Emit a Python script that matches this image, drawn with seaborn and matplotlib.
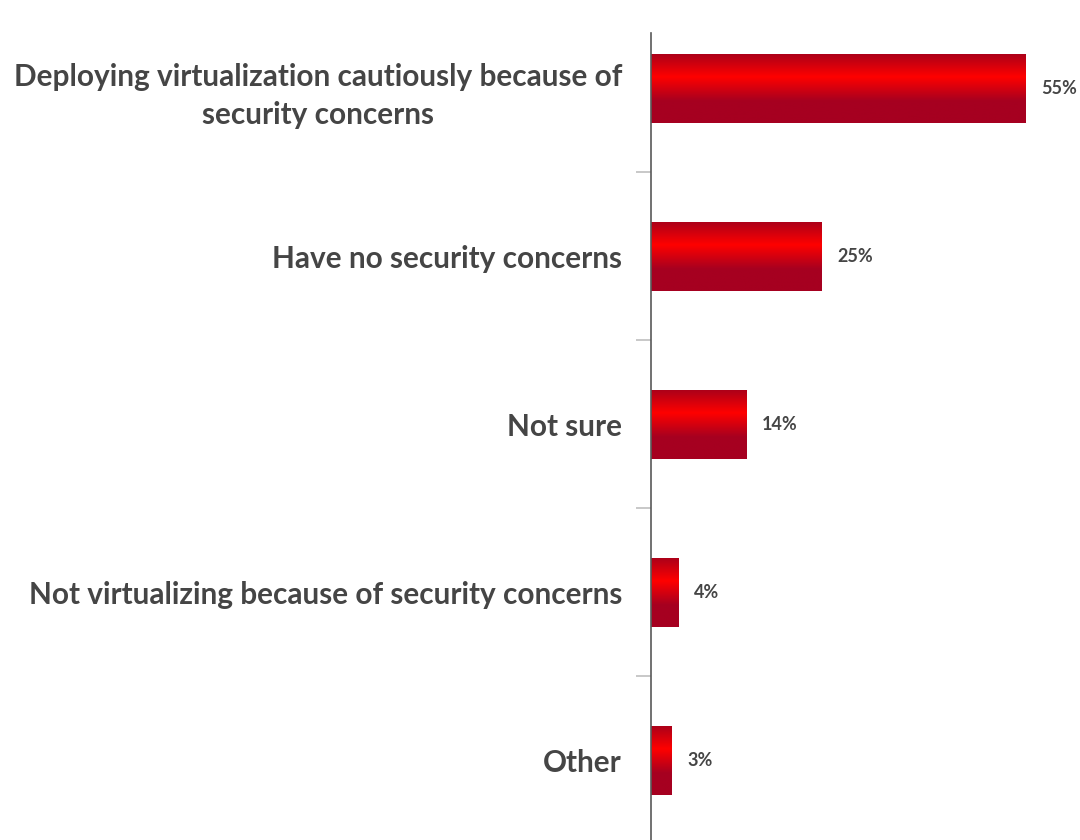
import numpy as np
import matplotlib.pyplot as plt
import seaborn as sns
import pandas as pd
from matplotlib.colors import LinearSegmentedColormap

# chart data
categories = [
    "Deploying virtualization cautiously because of\nsecurity concerns",
    "Have no security concerns",
    "Not sure",
    "Not virtualizing because of security concerns",
    "Other",
]
values = [55, 25, 14, 4, 3]

df = pd.DataFrame({"category": categories, "value": values})

sns.set_style("white")
plt.rcParams["font.family"] = ["Lato", "DejaVu Sans"]

fig = plt.figure(figsize=(10.8, 8.4), dpi=100)
ax = fig.add_axes([0.603, -0.005, 0.397, 1.0])

sns.barplot(data=df, x="value", y="category", orient="h", width=0.41,
            color="#C00018", ax=ax)

# gradient fill for each bar (dark - bright red - dark)
grad_cmap = LinearSegmentedColormap.from_list(
    "redgrad", [(0.0, "#AC0019"), (0.33, "#FF0000"), (0.68, "#A60020"), (1.0, "#A60020")])
grad = np.linspace(0, 1, 256).reshape(-1, 1)
for patch in ax.patches:
    x0, y0 = patch.get_x(), patch.get_y()
    w, h = patch.get_width(), patch.get_height()
    im = ax.imshow(grad, cmap=grad_cmap, aspect="auto",
                   extent=[x0, x0 + w, y0 + h, y0], zorder=patch.get_zorder() + 0.1)
    im.set_clip_path(patch)
    ax.text(x0 + w + 2.3, y0 + h / 2, f"{w:.0f}%", va="center", ha="left",
            fontsize=13, fontweight="bold", color="#454545")

ax.set_xlim(0, 63)
ax.set_ylim(4.5, -0.5)
ax.set_xlabel("")
ax.set_ylabel("")
ax.set_xticks([])

ax.set_yticks(range(len(categories)))
ax.set_yticklabels(categories, fontsize=21.4, fontweight="bold", color="#454545",
                   linespacing=1.45)
ax.tick_params(axis="y", which="major", left=False, length=0, pad=21)
ax.set_yticks(np.arange(0.5, len(categories) - 0.5, 1), minor=True)
ax.tick_params(axis="y", which="minor", left=True, length=11, width=1.2,
               color="#BFBFBF", direction="out")
for lbl in ax.get_yticklabels():
    lbl.set_horizontalalignment("right")
    lbl.set_multialignment("center")

sns.despine(ax=ax, top=True, right=True, bottom=True)
ax.spines["left"].set_color("#595959")
ax.spines["left"].set_linewidth(1.2)
ax.spines["left"].set_bounds(4.5, -0.33)

plt.savefig("out.png", dpi=100)
